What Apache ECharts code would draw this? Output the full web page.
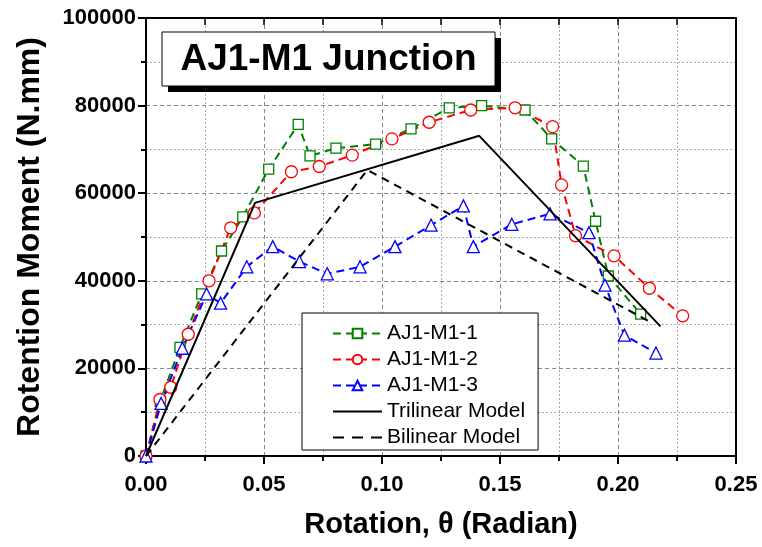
<!DOCTYPE html>
<html>
<head>
<meta charset="utf-8">
<script src="https://cdn.jsdelivr.net/npm/echarts@6/dist/echarts.min.js"></script>
<style>html,body{margin:0;padding:0;background:#fff}#c{width:762px;height:547px}</style>
</head>
<body>
<div id="c"></div>
<script>
// Data: [rotation (rad), moment (N.mm)]
const seriesNames = ['AJ1-M1-1', 'AJ1-M1-2', 'AJ1-M1-3', 'Trilinear Model', 'Bilinear Model'];
const xTicks = ['0.00', '0.05', '0.10', '0.15', '0.20', '0.25'];
const yTicks = ['0', '20000', '40000', '60000', '80000', '100000'];

const aj1 = [[0,0],[0.006,12500],[0.0144,24800],[0.0236,37000],[0.032,46800],[0.041,54600],[0.052,65500],[0.0645,75700],[0.0695,68500],[0.0805,70300],[0.0973,71200],[0.1123,74700],[0.1285,79500],[0.1422,80000],[0.1606,79000],[0.1719,72400],[0.1853,66200],[0.1905,53600],[0.1959,41100],[0.2096,32400]];
const aj2 = [[0,0],[0.0059,12900],[0.0105,15700],[0.0179,27800],[0.0267,40000],[0.0359,52100],[0.0459,55500],[0.0616,64900],[0.0734,66100],[0.0874,68700],[0.1042,72400],[0.12,76200],[0.1376,79000],[0.1564,79500],[0.1723,75200],[0.1761,61900],[0.182,50300],[0.1983,45700],[0.2133,38300],[0.2274,32000]];
const aj3 = [[0,0],[0.0064,12000],[0.0154,24600],[0.0257,37000],[0.0316,34900],[0.0427,43200],[0.0537,47800],[0.065,44400],[0.0768,41600],[0.0907,43200],[0.1055,47800],[0.1208,52700],[0.1345,57100],[0.1387,47800],[0.155,52900],[0.1712,55300],[0.1877,51000],[0.1945,39000],[0.2027,27600],[0.2161,23500]];
const trilinear = [[0,0],[0.0462,57800],[0.1412,73100],[0.218,29600]];
const bilinear = [[0,0],[0.0938,65300],[0.213,30800]];

const FONT = 'Liberation Sans, Arial, sans-serif';

// legend icons for plain lines (tiny corner specks keep the bounding box)
const SPECKS = 'M0,0h0.01v0.01h-0.01z M49,12h0.01v0.01h-0.01z ';
const solidIcon = 'path://' + SPECKS + 'M0,5h49v2h-49z';
const dashIcon = 'path://' + SPECKS + 'M0,5h11v2h-11z M19,5h11v2h-11z M38,5h11v2h-11z';

function markerSeries(name, data, color, symbol, size) {
  return {
    name, type: 'line', data, symbol, symbolSize: size,
    showAllSymbol: true,
    lineStyle: { color, width: 2, type: [8, 5] },
    itemStyle: { color: '#fff', borderColor: color, borderWidth: 1.3 },
    emphasis: { disabled: true },
    z: 3
  };
}

const chart = echarts.init(document.getElementById('c'), null, { renderer: 'canvas' });
const axisCommon = {
  type: 'value',
  axisLine: { show: true, onZero: false, lineStyle: { color: '#000', width: 2 } },
};
chart.setOption({
  animation: false,
  backgroundColor: '#fff',
  textStyle: { fontFamily: FONT },
  grid: { left: 146, right: 26, top: 18, bottom: 91, containLabel: false },
  xAxis: [
    Object.assign({}, axisCommon, {
      min: 0, max: 0.25, interval: 0.05, position: 'bottom',
      name: 'Rotation, θ (Radian)', nameLocation: 'middle', nameGap: 54,
      nameTextStyle: { fontFamily: FONT, fontWeight: 'bold', fontSize: 29, color: '#000' },
      axisTick: { show: true, inside: false, length: 8, lineStyle: { color: '#000', width: 2 } },
      minorTick: { show: true, splitNumber: 2, length: 5, lineStyle: { color: '#000', width: 2 } },
      axisLabel: { fontFamily: FONT, fontWeight: 'bold', fontSize: 22, color: '#000', margin: 18,
        formatter: (v) => xTicks[Math.round(v / 0.05)] },
      splitLine: { show: true, lineStyle: { color: '#888', width: 1, type: [4, 3] } },
      minorSplitLine: { show: true, lineStyle: { color: '#aaa', width: 1, type: [2, 2] } }
    }),
    Object.assign({}, axisCommon, {
      min: 0, max: 0.25, interval: 0.025, position: 'top',
      axisTick: { show: true, inside: true, length: 7, lineStyle: { color: '#000', width: 1.5 } },
      axisLabel: { show: false }, splitLine: { show: false }
    })
  ],
  yAxis: [
    Object.assign({}, axisCommon, {
      min: 0, max: 100000, interval: 20000, position: 'left',
      name: 'Rotention Moment (N.mm)', nameLocation: 'middle', nameGap: 100,
      nameTextStyle: { fontFamily: FONT, fontWeight: 'bold', fontSize: 32, color: '#000' },
      axisTick: { show: true, inside: false, length: 8, lineStyle: { color: '#000', width: 2 } },
      minorTick: { show: true, splitNumber: 2, length: 5, lineStyle: { color: '#000', width: 2 } },
      axisLabel: { fontFamily: FONT, fontWeight: 'bold', fontSize: 22, color: '#000', margin: 10,
        formatter: (v) => yTicks[Math.round(v / 20000)] },
      splitLine: { show: true, lineStyle: { color: '#888', width: 1, type: [4, 3] } },
      minorSplitLine: { show: true, lineStyle: { color: '#aaa', width: 1, type: [2, 2] } }
    }),
    Object.assign({}, axisCommon, {
      min: 0, max: 100000, interval: 20000, position: 'right',
      axisTick: { show: false }, axisLabel: { show: false }, splitLine: { show: false }
    })
  ],
  legend: {
    orient: 'vertical', left: 302, top: 313,
    data: [
      { name: seriesNames[0] },
      { name: seriesNames[1] },
      { name: seriesNames[2] },
      { name: seriesNames[3], icon: solidIcon, itemStyle: { color: '#000', borderWidth: 0 } },
      { name: seriesNames[4], icon: dashIcon, itemStyle: { color: '#000', borderWidth: 0 } }
    ],
    itemWidth: 49, itemHeight: 12, itemGap: 5,
    padding: [10, 13, 2, 30],
    borderColor: '#000', borderWidth: 1, backgroundColor: '#fff',
    textStyle: { fontFamily: FONT, fontSize: 21, color: '#000' },
    selectedMode: false
  },
  series: [
    markerSeries(seriesNames[0], aj1, '#008000', 'rect', 10),
    markerSeries(seriesNames[1], aj2, '#ff0000', 'circle', 12),
    markerSeries(seriesNames[2], aj3, '#0000ff', 'triangle', 12),
    { name: seriesNames[3], type: 'line', data: trilinear, symbol: 'none',
      lineStyle: { color: '#000', width: 2 }, itemStyle: { color: '#000' }, z: 4 },
    { name: seriesNames[4], type: 'line', data: bilinear, symbol: 'none',
      lineStyle: { color: '#000', width: 2, type: [8, 6] }, itemStyle: { color: '#000' }, z: 4 }
  ],
  graphic: [
    { type: 'rect', shape: { x: 168, y: 38, width: 333, height: 54 }, style: { fill: '#000' }, z: 10 },
    { type: 'rect', shape: { x: 162, y: 32, width: 333, height: 54 }, style: { fill: '#fff', stroke: '#000', lineWidth: 1 }, z: 11 },
    { type: 'text', x: 328.5, y: 60, z: 12,
      style: { text: 'AJ1-M1 Junction', fontFamily: FONT, fontWeight: 'bold', fontSize: 37, fill: '#000', align: 'center', verticalAlign: 'middle' } }
  ]
});
</script>
</body>
</html>
